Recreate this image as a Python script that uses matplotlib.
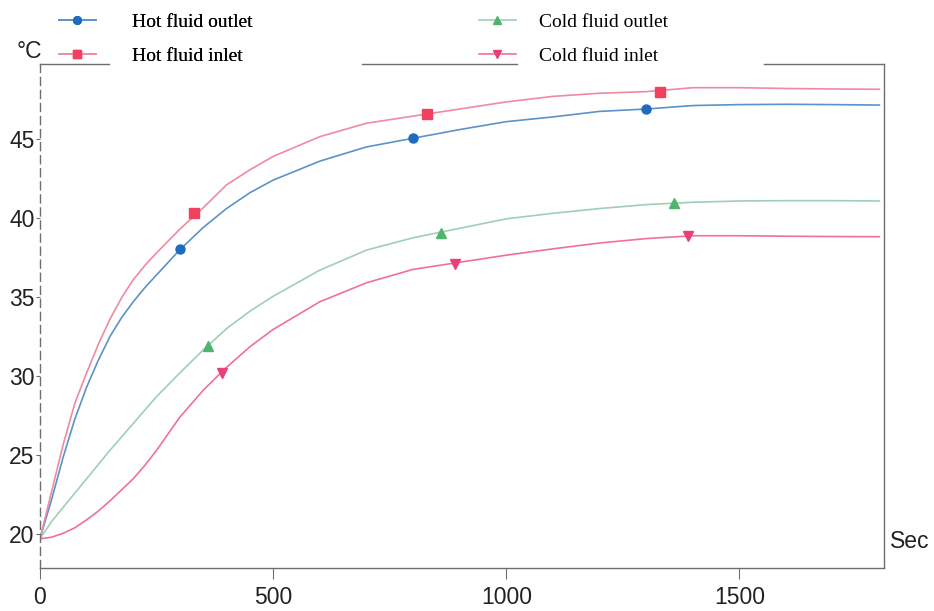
import numpy as np
from matplotlib import pyplot as plt

# time axis (s) and temperatures (degC)
t = [0, 25, 50, 75, 100, 125, 150, 175, 200, 225, 250, 300, 350, 400, 450, 500, 600, 700,
     800, 900, 1000, 1100, 1200, 1300, 1400, 1500, 1600, 1700, 1800]

hot_out = [19.7, 22.2, 24.9, 27.3, 29.3, 31.0, 32.5, 33.7, 34.7, 35.6, 36.4, 38.0, 39.4, 40.6, 41.6,
           42.4, 43.6, 44.5, 45.05, 45.6, 46.1, 46.4, 46.75, 46.9, 47.12, 47.18, 47.2, 47.18, 47.15]
hot_in = [19.7, 22.7, 25.7, 28.3, 30.2, 32.0, 33.6, 34.95, 36.1, 37.0, 37.8, 39.3, 40.65, 42.1, 43.05,
          43.9, 45.15, 46.0, 46.45, 46.9, 47.35, 47.7, 47.9, 48.0, 48.25, 48.25, 48.2, 48.17, 48.15]
cold_out = [19.7, 20.8, 21.7, 22.6, 23.5, 24.4, 25.3, 26.15, 27.0, 27.85, 28.7, 30.2, 31.65, 33.0, 34.1,
            35.05, 36.7, 37.97, 38.75, 39.35, 39.95, 40.3, 40.6, 40.85, 41.0, 41.08, 41.1, 41.1, 41.08]
cold_in = [19.7, 19.8, 20.05, 20.4, 20.9, 21.45, 22.1, 22.8, 23.5, 24.35, 25.3, 27.4, 29.1, 30.55, 31.85,
           32.95, 34.7, 35.9, 36.75, 37.2, 37.65, 38.05, 38.42, 38.7, 38.88, 38.88, 38.85, 38.83, 38.82]

# marker positions
hot_out_mk_t = [300, 800, 1300]
hot_out_mk = [38.04, 45.04, 46.9]
hot_in_mk_t = [330, 830, 1330]
hot_in_mk = [40.3, 46.56, 48.0]
cold_out_mk_t = [360, 860, 1360]
cold_out_mk = [31.9, 39.07, 40.97]
cold_in_mk_t = [390, 890, 1390]
cold_in_mk = [30.2, 37.1, 38.88]

labels = ["Hot fluid outlet", "Hot fluid inlet", "Cold fluid outlet", "Cold fluid inlet"]

W, H = 934, 611
fig = plt.figure(figsize=(W/100, H/100), dpi=100)
ax = fig.add_axes([40/W, 1-568/H, (884-40)/W, (568-64)/H])

series = [
    (t, hot_out, hot_out_mk_t, hot_out_mk, "#5b93c8", "#1e6bc0", "o", 6.5),
    (t, hot_in, hot_in_mk_t, hot_in_mk, "#ef8aa0", "#f2405f", "s", 6.5),
    (t, cold_out, cold_out_mk_t, cold_out_mk, "#9fcfb4", "#4fb56e", "^", 6.5),
    (t, cold_in, cold_in_mk_t, cold_in_mk, "#f0709a", "#e8407a", "v", 6.5),
]
handles = []
for x, y, mx, my, lc, mc, m, ms in series:
    ax.plot(x, y, color=lc, lw=1.2, zorder=2)
    ax.plot(mx, my, linestyle='None', marker=m, ms=ms, color=mc, zorder=3)
    h, = ax.plot([], [], color=lc, lw=1.2, marker=m, ms=ms, mfc=mc, mec=mc)
    handles.append(h)

ax.set_xlim(0, 1810)
ax.set_ylim(17.85, 49.75)
ax.set_xticks([0, 500, 1000, 1500])
ax.set_yticks([20, 25, 30, 35, 40, 45])

spine_c = "#6e6e6e"
ax.spines['top'].set_visible(False)
for s in ['left', 'right', 'bottom']:
    ax.spines[s].set_color(spine_c)
    ax.spines[s].set_linewidth(1.0)
ax.spines['left'].set_linestyle((0, (5.8, 3.6)))

# top border broken by the legend
for x0, x1 in [(40, 109), (362, 517), (764, 884)]:
    ax.plot([(x0-40)/844, (x1-40)/844], [1, 1], transform=ax.transAxes,
            color=spine_c, lw=1.0, clip_on=False)

ax.tick_params(axis='both', colors=spine_c, labelcolor='#222222', labelsize=16.5,
               labelfontfamily='Liberation Sans')
ax.tick_params(axis='y', length=3, pad=1)
ax.tick_params(axis='x', length=8, pad=5)

fig.text(42/W, 1-51/H, "°C", ha='right', va='center', fontsize=16.5,
         family='Liberation Sans', color='#222222')
fig.text(890/W, 1-542/H, "Sec", ha='left', va='center', fontsize=16.5,
         family='Liberation Sans', color='#222222')

leg_font = {'family': 'Liberation Serif', 'size': 14}
leg1 = fig.legend(handles[:2], labels[:2], loc='upper left', bbox_to_anchor=(59/W, 1-13/H),
                  frameon=False, prop=leg_font, handlelength=1.9, handletextpad=1.85,
                  labelspacing=0.86, borderpad=0, borderaxespad=0, markerscale=0.85)
leg2 = fig.legend(handles[2:], labels[2:], loc='upper left', bbox_to_anchor=(479/W, 1-13/H),
                  frameon=False, prop=leg_font, handlelength=1.9, handletextpad=1.2,
                  labelspacing=0.86, borderpad=0, borderaxespad=0, markerscale=0.85)
fig.add_artist(leg1)

fig.savefig("out.png", dpi=100)
